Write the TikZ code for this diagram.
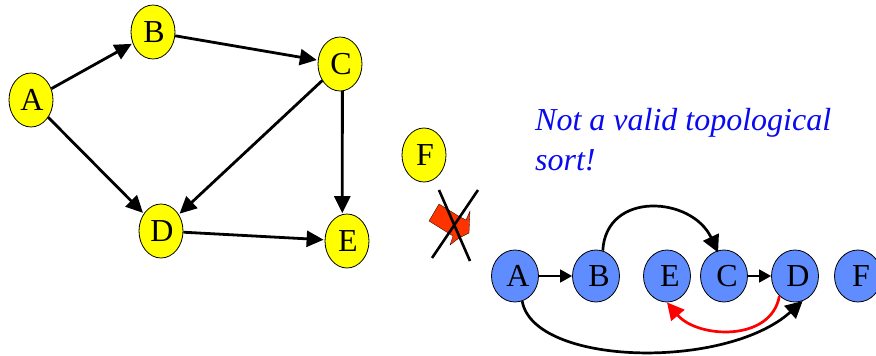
\documentclass[tikz,border=0pt]{standalone}
\usepackage{fontspec}
\setmainfont{Liberation Serif}
\usetikzlibrary{arrows.meta, shapes.geometric}
\definecolor{nodeYellow}{RGB}{255,255,0}
\definecolor{nodeBlue}{RGB}{95,140,255}
\definecolor{noteBlue}{RGB}{10,10,240}
\definecolor{flagRed}{RGB}{255,51,0}

\begin{document}
\begin{tikzpicture}[
  x=1pt, y=-1pt,
  graphnode/.style={ellipse, draw=black, line width=0.8pt, fill=nodeYellow, inner sep=0pt, minimum width=44pt, minimum height=54pt, font=\fontsize{32}{32}\selectfont},
  sortnode/.style={ellipse, draw=black, line width=0.8pt, fill=nodeBlue, inner sep=0pt, minimum width=47pt, minimum height=52pt, font=\fontsize{32}{32}\selectfont},
  arr/.style={-{Triangle[length=17pt, width=16pt]}, line width=2.8pt, shorten >=1pt},
  thinarr/.style={-{Triangle[length=12pt, width=13pt]}, line width=1.6pt},
  bent/.style={-{Triangle[length=17pt, width=17pt]}, line width=2.7pt},
  note/.style={font=\itshape\fontsize{32}{40}\selectfont, text=noteBlue, align=left, anchor=north west, inner sep=0pt}
]
\useasboundingbox (0,0) rectangle (876,356);
\foreach \name/\x/\y in {A/31/100, B/153/32, C/340/64, D/161/231, E/347/241, F/424/155}{
  \node[graphnode] (g\name) at (\x,\y) {\kern2pt\name};
}
\foreach \name/\x in {A/515, B/596, E/667, C/724, D/795, F/858}{
  \node[sortnode] (s\name) at (\x,276) {\kern6pt\name};
}
\foreach \i/\j in {A/B, A/D, B/C, C/D, D/E}{
  \draw[arr] (g\i) -- (g\j);
}
\draw[arr] (gC.-85) -- (gE.100);
\draw[thinarr] (sA) -- (sB);
\draw[thinarr] (sC) -- (sD);
\draw[bent, shorten >=-2pt] (sB.75) to[out=87, in=115, looseness=1.35] (sC.105);
\draw[bent] (sA.-74) to[out=-80, in=-138, out looseness=0.6, in looseness=0.95] (sD.-73);
\draw[bent, draw=red, red] (sD.-128) to[out=-100, in=-50, looseness=1.07] (sE.south);
\node[note] (warn) at (535,108.5) {Not a valid topological\\sort!};
% crossed-out flag
\fill[flagRed, draw=black, line width=0.3pt] (429,221) -- (439,204) -- (460,217) -- (466,220) -- (470,211) -- (469,233) -- (459,238) -- (450,245) -- (453,236) -- cycle;
\draw[line width=2.6pt] (439,190) -- (470,261);
\draw[line width=2.6pt] (478,190) -- (432,258);
\end{tikzpicture}
\end{document}
